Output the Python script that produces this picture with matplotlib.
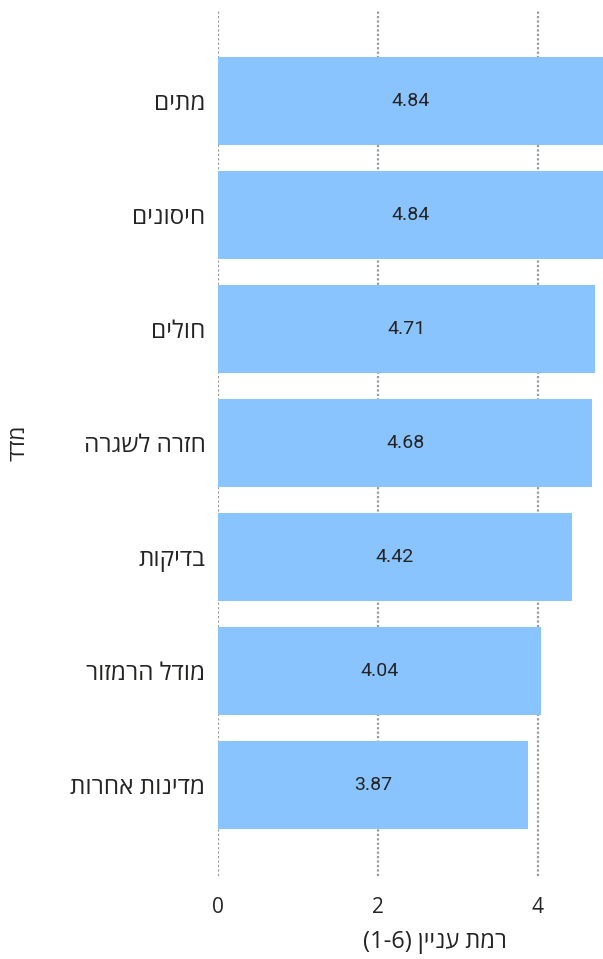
import matplotlib
matplotlib.use("Agg")
import matplotlib.pyplot as plt

# ------------------
# Data
# ------------------
categories = ["מתים", "חיסונים", "חולים", "חזרה לשגרה", "בדיקות", "מודל הרמזור", "מדינות אחרות"]
values = [4.84, 4.84, 4.71, 4.68, 4.42, 4.04, 3.87]
x_ticks = [0, 2, 4]
x_label = "רמת עניין (1-6)"
y_label = "מדד"


def visual(s):
    # matplotlib has no bidi, so flip the Hebrew into visual order
    return s[::-1]


FONT = ["Open Sans", "DejaVu Sans"]
plt.rcParams["font.family"] = FONT

BAR_COLOR = "#8AC4FF"
TEXT_COLOR = "#252423"
XMAX = 4.8125

fig = plt.figure(figsize=(6.03, 9.59), dpi=100)
ax = fig.add_axes([0.3615, 0.0866, 0.6385, 0.903])

y = list(range(len(categories)))
ax.barh(y, values, height=0.77, color=BAR_COLOR, zorder=2)

for yi, v in zip(y, values):
    ax.text(min(v, XMAX) / 2, yi, f"{v:.2f}", ha="center", va="center",
            fontsize=14, color=TEXT_COLOR, zorder=3, family=["Roboto", "DejaVu Sans"])

ax.set_xlim(0, XMAX)
ax.set_ylim(len(categories) - 0.2, -0.8)

ax.set_xticks(x_ticks)
ax.set_xticklabels([str(t) for t in x_ticks], fontsize=15, color=TEXT_COLOR)
ax.set_yticks(y)
ax.set_yticklabels([visual(c) for c in categories], fontsize=17.5, color=TEXT_COLOR)
ax.tick_params(length=0)
ax.tick_params(axis="y", pad=9)
ax.tick_params(axis="x", pad=15)

ax.grid(axis="x", color="#9a9a9a", linestyle=(0, (1.0, 1.0)), linewidth=1.6, zorder=1)
ax.set_axisbelow(True)
for s in ax.spines.values():
    s.set_visible(False)

ax.set_xlabel("(1-6) " + visual("רמת עניין"), fontsize=17, color=TEXT_COLOR)
ax.xaxis.set_label_coords(0.564, -0.062)
ax.set_ylabel(visual(y_label), fontsize=16, color=TEXT_COLOR)
ax.yaxis.set_label_coords(-0.49, 0.5)

fig.savefig("out.png", dpi=100)
